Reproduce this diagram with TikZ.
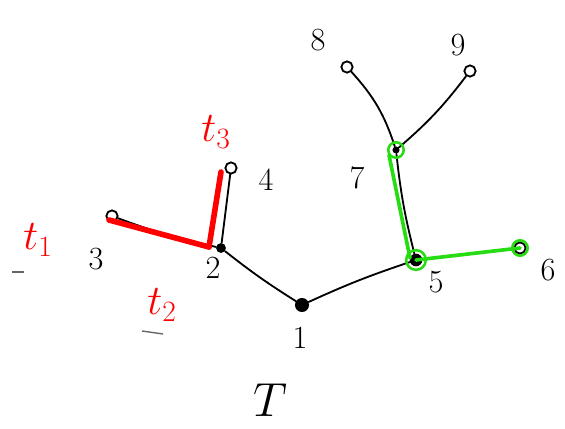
\RequirePackage{fix-cm}
\documentclass[tikz,border=0pt]{standalone}
\usepackage{tikz}
\usepackage{xcolor}
\usetikzlibrary{positioning,calc}
\definecolor{sketchgreen}{RGB}{40,220,20}

\begin{document}
\begin{tikzpicture}[
          x=0.25mm, y=-0.25mm,
          every node/.style={font=\fontsize{23}{27}\selectfont},
          edge/.style={line width=1.3pt, line cap=round},
          leaf/.style={draw, circle, line width=1.3pt, inner sep=0pt, minimum size=8pt},
          inner/.style={circle, fill=black, inner sep=0pt, minimum size=7pt},
          hit/.style={draw=sketchgreen, circle, line width=1.8pt, inner sep=0pt, minimum size=11pt},
          num/.style={inner sep=1pt},
          tlab/.style={text=red, inner sep=1pt, font=\fontsize{30}{34}\selectfont},
          redpath/.style={red, line width=4pt, line cap=round},
          greenpath/.style={sketchgreen, line width=2.6pt, line cap=round},
          scratch/.style={black!60, line width=1pt}
      ]
        \useasboundingbox (0,0) rectangle (565,429);
        % tree vertices
        \node[inner, minimum size=10pt] (n1) at (302,305) {};
        \node[inner] (n2) at (221,248) {};
        \node[leaf] (n3) at (112,216) {};
        \node[leaf] (n4) at (231,168) {};
        \node[inner, minimum size=9pt] (n5) at (416,260) {};
        \node[leaf] (n6) at (520,248) {};
        \node[inner, minimum size=5pt] (n7) at (396,150) {};
        \node[leaf] (n8) at (347,67) {};
        \node[leaf] (n9) at (470,71) {};
        % edges
        \draw[edge] (n1) to[bend left=3] (n2);
        \draw[edge] (n1) to[bend left=3] (n5);
        \draw[edge] (n2) to[bend left=4] (n3);
        \draw[edge] (n2) -- (n4);
        \draw[edge] (n5) to[bend left=4] (n7);
        \draw[edge] (n5) -- (n6);
        \draw[edge] (n7) to[bend right=12] (n8);
        \draw[edge] (n7) to[bend right=6] (n9);
        % red paths t2, t3
        \draw[redpath] ([shift={(-3,4)}]n3.center) -- ([shift={(-12,-1)}]n2.center);
        \draw[redpath] ([shift={(-12,-1)}]n2.center) -- ([shift={(-10,4)}]n4.center);
        % green path 7 -> 5 -> 6
        \draw[greenpath] ([shift={(-7,5)}]n7.center) -- ([shift={(-6,-2)}]n5.center);
        \draw[greenpath] (n5.center) -- (n6.center);
        \node[hit] (g7) at (n7) {};
        \node[hit, minimum size=14pt] (g5) at (n5) {};
        \node[hit] (g6) at (n6) {};
        % vertex numbers
        \node[num] (l1) at (300,338) {1};
        \node[num] (l2) at (213,268) {2};
        \node[num] (l3) at (96,259) {3};
        \node[num] (l4) at (266,180) {4};
        \node[num] (l5) at (436,282) {5};
        \node[num] (l6) at (548,270) {6};
        \node[num] (l7) at (357,178) {7};
        \node[num] (l8) at (318,40) {8};
        \node[num] (l9) at (458,45) {9};
        \node[num, font=\fontsize{34}{38}\selectfont] (lT) at (270,400) {$T$};
        % red labels
        \node[tlab] (t1) at (38,240) {$t_1$};
        \node[tlab] (t2) at (162,305) {$t_2$};
        \node[tlab] (t3) at (216,132) {$t_3$};
        \draw[scratch] (12,272) -- (24,272);
        \draw[scratch] (142,331) -- (163,334);
      \end{tikzpicture}
\end{document}
